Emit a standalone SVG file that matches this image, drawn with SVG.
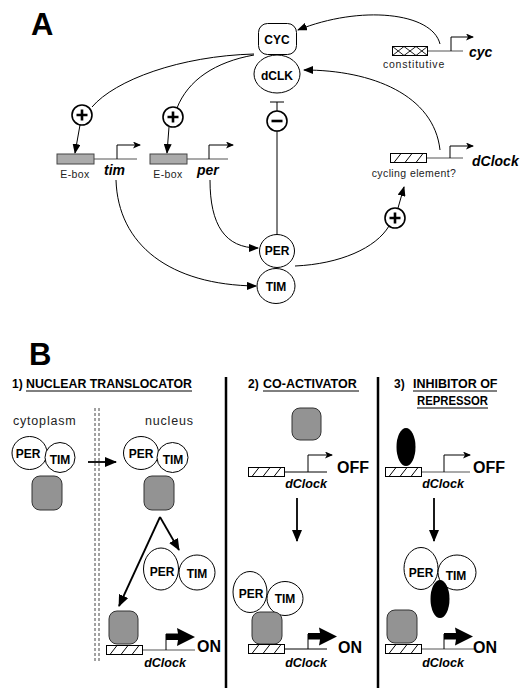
<svg xmlns="http://www.w3.org/2000/svg" width="521" height="695" viewBox="0 0 521 695">
<style>
text{font-family:"Liberation Sans",Arial,Helvetica,sans-serif;fill:#000}
.big{font-size:31px;font-weight:bold}
.lbl{font-size:12px;font-weight:bold;text-anchor:middle}
.small{font-size:10.5px;letter-spacing:0.4px;text-anchor:middle;fill:#222}
.gene{font-size:14px;font-weight:bold;font-style:italic}
.geneB{font-size:12.5px;font-weight:bold;font-style:italic;text-anchor:middle}
.head{font-size:12.5px;font-weight:bold}
.onoff{font-size:16px;font-weight:bold}
.loc{font-size:12.5px;letter-spacing:0.8px;fill:#222}
.ln{fill:none;stroke:#000;stroke-width:1}
.gl{fill:none;stroke:#555;stroke-width:1.2}
.thk{fill:none;stroke:#000;stroke-width:1.8}
.sep{stroke:#000;stroke-width:2.5}
.node{fill:#fff;stroke:#000;stroke-width:1}
.gray{fill:#939393;stroke:#333;stroke-width:1}
.ebox{fill:#ababab;stroke:#444;stroke-width:1}
.blk{fill:#000}
.sign{fill:#fff;stroke:#000;stroke-width:1.6}
.signl{stroke:#000;stroke-width:2.6}
.ul{stroke:#000;stroke-width:1}
.dash{stroke:#444;stroke-width:1;stroke-dasharray:3 2}
</style>
<defs>
<marker id="ah" viewBox="0 0 10 8" refX="9" refY="4" markerWidth="10" markerHeight="8" orient="auto" markerUnits="userSpaceOnUse"><path d="M0,0 L10,4 L0,8 z"/></marker>
<marker id="ahs" viewBox="0 0 8 7" refX="7" refY="3.5" markerWidth="8" markerHeight="7" orient="auto" markerUnits="userSpaceOnUse"><path d="M0,0 L8,3.5 L0,7 L2,3.5 z"/></marker>
<marker id="ahb" viewBox="0 0 12 10" refX="11" refY="5" markerWidth="12" markerHeight="10" orient="auto" markerUnits="userSpaceOnUse"><path d="M0,0 L12,5 L0,10 z"/></marker>
<symbol id="hatch" viewBox="0 0 37 10" width="37" height="10" overflow="visible">
<rect x="0.5" y="0.5" width="36" height="9" fill="#fff" stroke="#000" stroke-width="1"/>
<path d="M4,9.5 L11,0.5 M15,9.5 L22,0.5 M26,9.5 L33,0.5" stroke="#000" stroke-width="1"/>
</symbol>
<symbol id="cross" viewBox="0 0 36 10" width="36" height="10" overflow="visible">
<rect x="0.5" y="0.5" width="35" height="9" fill="#fff" stroke="#000" stroke-width="1"/>
<path d="M0.5,0.5 L12,9.5 M12,0.5 L0.5,9.5 M12,0.5 L24,9.5 M24,0.5 L12,9.5 M24,0.5 L35.5,9.5 M35.5,0.5 L24,9.5" stroke="#000" stroke-width="0.9"/>
</symbol>
<g id="plus"><circle r="10" class="sign"/><path d="M-5.5,0 H5.5 M0,-5.5 V5.5" class="signl"/></g>
</defs>

<!-- Panel A -->
<text class="big" x="31" y="35">A</text>

<g id="connectorsA">
<path class="ln" d="M440,44 C432,12 360,5 298,30" marker-end="url(#ah)"/>
<path class="ln" d="M440,150 C434,95 372,70 304,70" marker-end="url(#ah)"/>
<path class="ln" d="M254,54 C180,56 115,80 92,107"/>
<path class="ln" d="M254,55 C215,62 188,80 177,108"/>
<path class="ln" d="M80,125 L75,153" marker-end="url(#ah)"/>
<path class="ln" d="M169,127 L167,153" marker-end="url(#ah)"/>
<path class="ln" d="M116,180 C118,245 170,285 256,286" marker-end="url(#ah)"/>
<path class="ln" d="M210,180 C210,225 225,248 258,248" marker-end="url(#ah)"/>
<path class="ln" d="M295,266 C340,264 376,248 389,226"/>
<path class="ln" d="M398,208 L404,187" marker-end="url(#ah)"/>
<path class="ln" d="M277,102 V111 M277,131 V235 M270,102 H284"/>
</g>

<g id="signs">
<use href="#plus" x="82" y="115"/>
<use href="#plus" x="173" y="117"/>
<use href="#plus" x="395" y="218"/>
<g><circle cx="277" cy="121" r="10" class="sign"/><path d="M271.5,121 H282.5" class="signl"/></g>
</g>

<g id="geneTim">
<path class="gl" d="M94,159 H137"/>
<rect class="ebox" x="57" y="154" width="37" height="10"/>
<path class="ln" d="M117,159 V145 H140" marker-end="url(#ahs)"/>
<text class="small" x="75" y="178">E-box</text>
<text class="gene" x="104" y="175">tim</text>
</g>
<g id="genePer">
<path class="gl" d="M187,159 H228"/>
<rect class="ebox" x="150" y="154" width="37" height="10"/>
<path class="ln" d="M209,159 V145 H233" marker-end="url(#ahs)"/>
<text class="small" x="168" y="178">E-box</text>
<text class="gene" x="197" y="175">per</text>
</g>
<g id="geneCyc">
<path class="gl" d="M427,51 H463"/>
<use href="#cross" x="392" y="46"/>
<path class="ln" d="M451,51 V37 H473" marker-end="url(#ahs)"/>
<text class="small" x="414" y="68" style="letter-spacing:0.8px">constitutive</text>
<text class="gene" x="469" y="57">cyc</text>
</g>
<g id="geneDclockA">
<path class="gl" d="M427,158 H463"/>
<use href="#hatch" x="390" y="153"/>
<path class="ln" d="M450,158 V146 H473" marker-end="url(#ahs)"/>
<text class="small" x="414" y="177">cycling element?</text>
<text class="gene" x="472" y="166">dClock</text>
</g>

<g id="CYC"><rect class="node" x="258.5" y="23.5" width="38" height="31" rx="9"/><text class="lbl" x="277" y="44">CYC</text></g>
<g id="dCLK"><ellipse class="node" cx="277" cy="74" rx="23" ry="19"/><text class="lbl" x="277" y="80">dCLK</text></g>
<g id="PER"><ellipse class="node" cx="277" cy="251" rx="17.5" ry="16.5"/><text class="lbl" x="277" y="255">PER</text></g>
<g id="TIM"><ellipse class="node" cx="276" cy="286" rx="19" ry="17.5"/><text class="lbl" x="276" y="291">TIM</text></g>

<!-- Panel B -->
<text class="big" x="29" y="365">B</text>
<g id="headings">
<text class="head" x="12" y="388" style="font-size:12px">1)</text>
<text class="head" x="26" y="388" textLength="166" lengthAdjust="spacingAndGlyphs">NUCLEAR TRANSLOCATOR</text>
<line class="ul" x1="26" y1="391" x2="192" y2="391"/>
<text class="head" x="248" y="388" style="font-size:12px">2)</text>
<text class="head" x="263" y="388">CO-ACTIVATOR</text>
<line class="ul" x1="263" y1="391" x2="359" y2="391"/>
<text class="head" x="394" y="388" style="font-size:12px">3)</text>
<text class="head" x="413" y="388">INHIBITOR OF</text>
<line class="ul" x1="413" y1="391" x2="497" y2="391"/>
<text class="head" x="417" y="405" textLength="71" lengthAdjust="spacingAndGlyphs">REPRESSOR</text>
<line class="ul" x1="417" y1="408" x2="488" y2="408"/>
</g>

<g id="separators">
<line class="sep" x1="226" y1="377" x2="226" y2="688"/>
<line class="sep" x1="378" y1="377" x2="378" y2="688"/>
<line class="dash" x1="95" y1="408" x2="95" y2="663"/>
<line class="dash" x1="99" y1="408" x2="99" y2="663"/>
</g>

<text class="loc" x="13" y="425">cytoplasm</text>
<text class="loc" x="145" y="425">nucleus</text>

<g id="connectorsB">
<path class="thk" d="M88,462 H116" marker-end="url(#ahb)"/>
<path class="thk" d="M160,517 L179,550" marker-end="url(#ahb)"/>
<path class="thk" d="M160,517 L119,606" marker-end="url(#ahb)"/>
<path class="thk" d="M297,498 V541" marker-end="url(#ahb)"/>
<path class="thk" d="M434,498 V541" marker-end="url(#ahb)"/>
</g>

<g id="complexCyto">
<rect class="gray" x="32" y="476" width="30" height="34" rx="8"/>
<ellipse class="node" cx="29.5" cy="453" rx="17.5" ry="16.5"/>
<ellipse class="node" cx="60" cy="457.5" rx="15" ry="15"/>
<text class="lbl" x="28" y="458">PER</text>
<text class="lbl" x="60" y="464">TIM</text>
</g>
<g id="complexNuc">
<rect class="gray" x="144" y="476" width="30" height="34" rx="8"/>
<ellipse class="node" cx="141" cy="453" rx="17.5" ry="16.5"/>
<ellipse class="node" cx="172.5" cy="457.5" rx="15.5" ry="15"/>
<text class="lbl" x="141" y="458">PER</text>
<text class="lbl" x="173" y="464">TIM</text>
</g>
<g id="freePerTim">
<ellipse class="node" cx="161" cy="569" rx="17.5" ry="21"/>
<ellipse class="node" cx="197" cy="572.5" rx="18" ry="17.5"/>
<text class="lbl" x="162" y="576">PER</text>
<text class="lbl" x="197" y="578">TIM</text>
</g>
<g id="geneOn1">
<rect class="gray" x="109" y="611" width="29" height="33" rx="8"/>
<path class="gl" d="M143,650 H195"/>
<use href="#hatch" x="106" y="645"/>
<path class="ln" d="M166,650 V634"/>
<path d="M166,633.5 H178 L177,628 L195,637 L177,646 L178,640 H166 Z" fill="#000"/>
<text class="onoff" x="197" y="652">ON</text>
<text class="geneB" x="165" y="667">dClock</text>
</g>

<g id="coactTop">
<rect class="gray" x="292" y="408" width="29" height="32" rx="8"/>
<path class="ln" d="M285,472 H327"/>
<use href="#hatch" x="248" y="467"/>
<path class="ln" d="M308,472 V455 H332" marker-end="url(#ahs)"/>
<text class="onoff" x="337" y="473">OFF</text>
<text class="geneB" x="306" y="488">dClock</text>
</g>
<g id="coactBottom">
<ellipse class="node" cx="250" cy="592" rx="17" ry="20.5"/>
<ellipse class="node" cx="285" cy="598.5" rx="18" ry="17"/>
<text class="lbl" x="251" y="598">PER</text>
<text class="lbl" x="285" y="603">TIM</text>
<rect class="gray" x="252" y="612" width="30" height="32" rx="8"/>
<path class="ln" d="M285,649 H327"/>
<use href="#hatch" x="248" y="644"/>
<path class="ln" d="M308,649 V634"/>
<path d="M308,633 H320 L319,627.5 L337,636.5 L319,645.5 L320,639.5 H308 Z" fill="#000"/>
<text class="onoff" x="338" y="653">ON</text>
<text class="geneB" x="306" y="667">dClock</text>
</g>

<g id="inhibTop">
<path class="gl" d="M422,472 H470"/>
<use href="#hatch" x="385" y="467"/>
<ellipse class="blk" cx="406" cy="447" rx="9.5" ry="19"/>
<path class="ln" d="M444,472 V455 H470" marker-end="url(#ahs)"/>
<text class="onoff" x="473" y="473">OFF</text>
<text class="geneB" x="443" y="488">dClock</text>
</g>
<g id="inhibBottom">
<ellipse class="node" cx="421" cy="568.5" rx="17" ry="21"/>
<ellipse class="node" cx="457" cy="572.5" rx="19" ry="17.5"/>
<text class="lbl" x="421" y="577">PER</text>
<text class="lbl" x="456" y="580">TIM</text>
<ellipse class="blk" cx="440" cy="599" rx="9.5" ry="19"/>
<rect class="gray" x="387" y="610" width="30" height="33" rx="8"/>
<path class="gl" d="M422,649 H475"/>
<use href="#hatch" x="385" y="644"/>
<path class="ln" d="M444,649 V634"/>
<path d="M444,633 H456 L455,627.5 L473,636.5 L455,645.5 L456,639.5 H444 Z" fill="#000"/>
<text class="onoff" x="473" y="653">ON</text>
<text class="geneB" x="443" y="667">dClock</text>
</g>
</svg>
